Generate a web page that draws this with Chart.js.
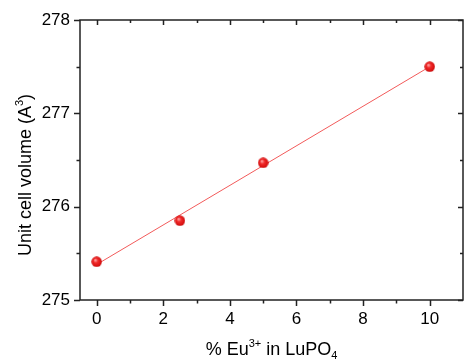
<!DOCTYPE html>
<html>
<head>
<meta charset="utf-8">
<script src="https://cdn.jsdelivr.net/npm/chart.js@4/dist/chart.umd.min.js"></script>
<style>
html,body{margin:0;padding:0;background:#fff;}
#wrap{width:464px;height:362px;position:relative;}
</style>
</head>
<body>
<div id="wrap"><canvas id="c" width="464" height="362"></canvas></div>
<script>
const euPercent = [0, 2.5, 5, 10];
const cellVolume = [275.41, 275.85, 276.47, 277.50];
const fitX = [0, 10];
const fitY = [275.38, 277.50];
const xTicks = [0, 2, 4, 6, 8, 10];
const xMinorTicks = [1, 3, 5, 7, 9];
const yTicks = [275, 276, 277, 278];
const yMinorTicks = [275.5, 276.5, 277.5];
// titles as [text, kind] parts: n = normal, sup = superscript, sub = subscript
const xTitleParts = [['% Eu', 'n'], ['3+', 'sup'], [' in LuPO', 'n'], ['4', 'sub']];
const yTitleParts = [['Unit cell volume (A', 'n'], ['3', 'sup'], [')', 'n']];

function makeBall(d){
  const cv = document.createElement('canvas');
  cv.width = d; cv.height = d;
  const g = cv.getContext('2d');
  const r = d/2;
  const grad = g.createRadialGradient(r*0.75, r*0.7, r*0.1, r, r, r);
  grad.addColorStop(0, '#ff9a9a');
  grad.addColorStop(0.35, '#f02a2a');
  grad.addColorStop(0.85, '#d81010');
  grad.addColorStop(1, '#b80a0a');
  g.fillStyle = grad;
  g.beginPath(); g.arc(r, r, r-0.3, 0, Math.PI*2); g.fill();
  return cv;
}
const ball = makeBall(11);

const FAMILY = '"Liberation Sans", Arial, sans-serif';
const axisColor = '#222';

function drawRich(ctx, parts, size){
  const small = Math.round(size*0.62);
  let w = 0;
  const seg = parts.map(([t,k]) => {
    ctx.font = (k === 'n' ? size : small) + 'px ' + FAMILY;
    const m = ctx.measureText(t).width;
    const s = {t, k, x: w, f: ctx.font};
    w += m;
    return s;
  });
  return {w, draw(x0, y0){
    seg.forEach(s => {
      ctx.font = s.f;
      const dy = s.k === 'sup' ? -size*0.42 : (s.k === 'sub' ? size*0.22 : 0);
      ctx.fillText(s.t, x0 + s.x, y0 + dy);
    });
  }};
}

const framePlugin = {
  id: 'frame',
  afterDraw(chart){
    const ctx = chart.ctx;
    const a = chart.chartArea;
    const xs = chart.scales.x, ys = chart.scales.y;
    ctx.save();
    ctx.strokeStyle = axisColor;
    ctx.lineWidth = 1.5;
    ctx.strokeRect(a.left, a.top, a.right - a.left, a.bottom - a.top);
    ctx.beginPath();
    xTicks.forEach(v => {
      const px = Math.round(xs.getPixelForValue(v)) + 0.5;
      ctx.moveTo(px, a.bottom); ctx.lineTo(px, a.bottom + 6);
      ctx.moveTo(px, a.top); ctx.lineTo(px, a.top + 5);
    });
    xMinorTicks.forEach(v => {
      const px = Math.round(xs.getPixelForValue(v)) + 0.5;
      ctx.moveTo(px, a.bottom); ctx.lineTo(px, a.bottom + 3.5);
      ctx.moveTo(px, a.top); ctx.lineTo(px, a.top + 3);
    });
    yTicks.forEach(v => {
      const py = Math.round(ys.getPixelForValue(v)) + 0.5;
      ctx.moveTo(a.left, py); ctx.lineTo(a.left - 6, py);
      ctx.moveTo(a.right, py); ctx.lineTo(a.right - 5, py);
    });
    yMinorTicks.forEach(v => {
      const py = Math.round(ys.getPixelForValue(v)) + 0.5;
      ctx.moveTo(a.left, py); ctx.lineTo(a.left - 3.5, py);
      ctx.moveTo(a.right, py); ctx.lineTo(a.right - 3, py);
    });
    ctx.stroke();

    // axis titles with super/subscripts
    ctx.fillStyle = '#000';
    ctx.textBaseline = 'alphabetic';
    ctx.textAlign = 'left';
    const xt = drawRich(ctx, xTitleParts, 18);
    xt.draw((a.left + a.right)/2 - xt.w/2, a.bottom + 55);
    ctx.save();
    ctx.translate(31, (a.top + a.bottom)/2);
    ctx.rotate(-Math.PI/2);
    const yt = drawRich(ctx, yTitleParts, 18);
    yt.draw(-yt.w/2 - 15, 0);
    ctx.restore();
    ctx.restore();
  }
};

const font = {family: FAMILY, size: 17};

new Chart(document.getElementById('c'), {
  type: 'scatter',
  data: {
    datasets: [
      {
        label: 'fit',
        type: 'line',
        data: fitX.map((x, i) => ({x, y: fitY[i]})),
        borderColor: '#f25a5a',
        borderWidth: 1,
        pointRadius: 0,
        fill: false,
        order: 2
      },
      {
        label: 'data',
        data: euPercent.map((x, i) => ({x, y: cellVolume[i]})),
        pointStyle: ball,
        pointRadius: 5.5,
        order: 1
      }
    ]
  },
  options: {
    responsive: false,
    animation: false,
    layout: {autoPadding: false, padding: {left: 0, right: 1, top: 20, bottom: 0}},
    plugins: {legend: {display: false}, tooltip: {enabled: false}},
    scales: {
      x: {
        type: 'linear',
        min: -0.5, max: 11,
        afterBuildTicks: s => { s.ticks = xTicks.map(v => ({value: v})); },
        afterFit: s => { s.height = 62; s.paddingLeft = 0; s.paddingRight = 0; },
        grid: {display: false, drawTicks: false},
        border: {display: false},
        ticks: {color: '#000', font, padding: 9, maxRotation: 0},
        title: {display: false}
      },
      y: {
        type: 'linear',
        min: 275, max: 278,
        afterBuildTicks: s => { s.ticks = yTicks.map(v => ({value: v})); },
        afterFit: s => { s.width = 80; s.paddingTop = 0; s.paddingBottom = 0; },
        grid: {display: false, drawTicks: false},
        border: {display: false},
        ticks: {color: '#000', font, padding: 10},
        title: {display: false}
      }
    }
  },
  plugins: [framePlugin]
});
</script>
</body>
</html>
